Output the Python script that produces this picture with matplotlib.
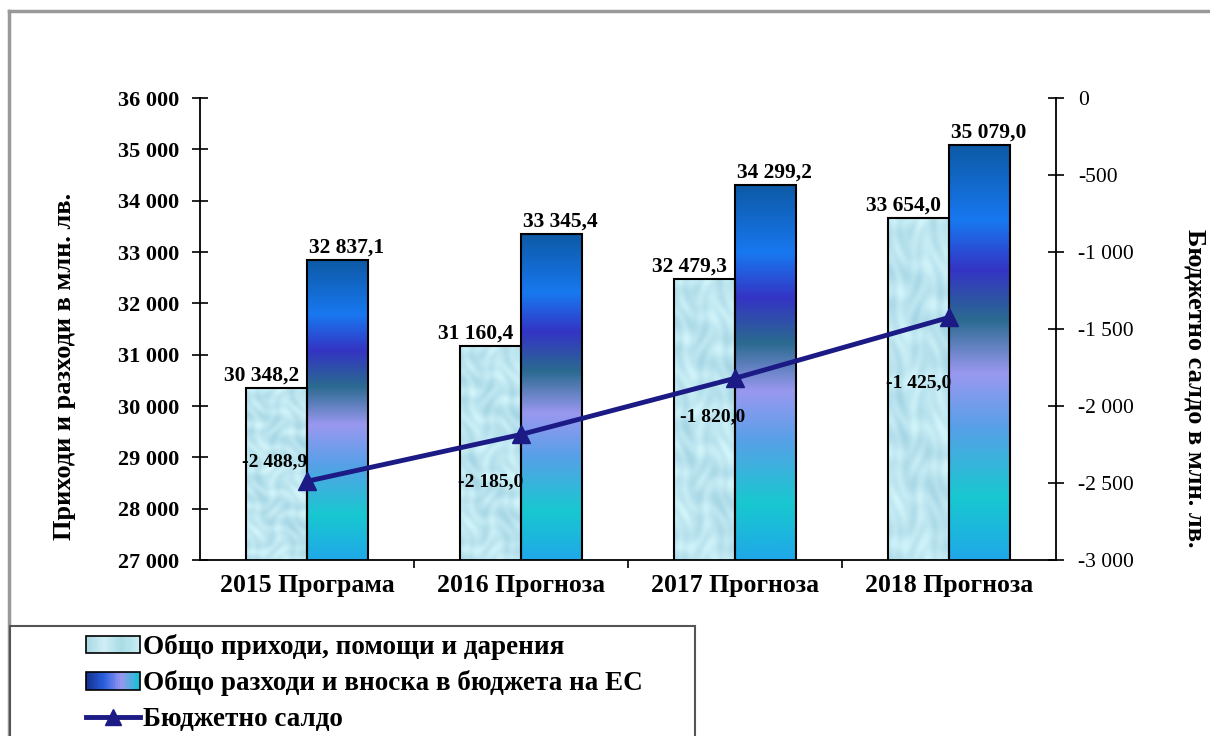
import numpy as np
import matplotlib
matplotlib.use("Agg")
import matplotlib.pyplot as plt
from matplotlib.colors import LinearSegmentedColormap
from matplotlib.legend_handler import HandlerBase
from matplotlib.patches import Rectangle, Patch
from matplotlib.lines import Line2D

plt.rcParams['font.family'] = ['Liberation Serif', 'DejaVu Serif']

categories = ["2015 Програма", "2016 Прогноза", "2017 Прогноза", "2018 Прогноза"]
revenue = [30348.2, 31160.4, 32479.3, 33654.0]
expenditure = [32837.1, 33345.4, 34299.2, 35079.0]
balance = [-2488.9, -2185.0, -1820.0, -1425.0]
names = ["Общо приходи, помощи и дарения",
         "Общо разходи и вноска в бюджета на ЕС",
         "Бюджетно салдо"]
left_ticks = list(range(27000, 36001, 1000))
right_ticks = list(range(-3000, 1, 500))

# label offsets (points) for the balance values
bal_offsets = [(-23, 14), (-22, -34), (-16, -28), (-22, -47)]

navy = "#1c1a84"
exp_stops = ["#0d5aa6", "#1878f0", "#3434c4", "#2a6a90", "#9a98f0",
             "#58a0e8", "#18c8d0", "#20a8e8"]
exp_pos = [0.0, 0.18, 0.30, 0.42, 0.55, 0.68, 0.85, 1.0]
exp_cmap = LinearSegmentedColormap.from_list("exp", list(zip(exp_pos, exp_stops)))


def fmt(v, dec=1):
    s = f"{v:,.{dec}f}".replace(",", " ").replace(".", ",")
    return s


def drops(h=240, w=70):
    # soft water-drop texture in pale cyan
    yy, xx = np.mgrid[0:h, 0:w]
    base = np.array([0.74, 0.90, 0.94])
    p = (np.sin(xx / 5.0 + np.sin(yy / 9.0) * 2) * np.sin(yy / 6.0 + np.cos(xx / 7.0) * 2))
    q = np.cos((xx + yy) / 11.0) * np.sin((xx - yy) / 8.0)
    t = 0.05 * p + 0.04 * q
    img = np.clip(base[None, None, :] + t[..., None] * np.array([1.0, 0.7, 0.5]), 0, 1)
    return img


class GradHandler(HandlerBase):
    def __init__(self, colors):
        super().__init__()
        self.cmap = LinearSegmentedColormap.from_list("h", colors)

    def create_artists(self, legend, orig_handle, xdescent, ydescent,
                       width, height, fontsize, trans):
        arts = []
        n = 30
        for k in range(n):
            arts.append(Rectangle((-xdescent + width * k / n, -ydescent),
                                  width / n * 1.1, height,
                                  facecolor=self.cmap(k / (n - 1)),
                                  edgecolor='none', transform=trans))
        arts.append(Rectangle((-xdescent, -ydescent), width, height,
                              facecolor='none', edgecolor='black', lw=1.2,
                              transform=trans))
        return arts


fig = plt.figure(figsize=(12.1, 7.36), dpi=100)
W, H = 1210, 736
ax = fig.add_axes([200 / W, (H - 560) / H, (1056 - 200) / W, (560 - 98) / H])

x = np.arange(len(categories))
bw = 0.287
b1 = ax.bar(x - bw / 2, revenue, bw, bottom=0, facecolor='none',
            edgecolor='black', lw=1.5, zorder=3)
b2 = ax.bar(x + bw / 2, expenditure, bw, facecolor='none',
            edgecolor='black', lw=1.5, zorder=3)

ylo, yhi = 27000, 36000
tex = drops()
grad = exp_cmap(np.linspace(0, 1, 256))[:, None, :3]
for r in b1:
    x0, w, top = r.get_x(), r.get_width(), r.get_height()
    ax.imshow(tex, extent=[x0, x0 + w, ylo, top], origin='upper',
              aspect='auto', zorder=2, interpolation='bilinear')
for r in b2:
    x0, w, top = r.get_x(), r.get_width(), r.get_height()
    ax.imshow(grad, extent=[x0, x0 + w, ylo, top], origin='upper',
              aspect='auto', zorder=2, interpolation='bilinear')

ax.set_xlim(-0.5, len(categories) - 0.5)
ax.set_ylim(ylo, yhi)
ax.set_aspect('auto')

for r, v in zip(b1, revenue):
    ax.text(r.get_x() + r.get_width() / 2 - 0.07, v + 50, fmt(v), ha='center',
            va='bottom', fontsize=15.5, fontweight='bold', zorder=5)
for r, v in zip(b2, expenditure):
    ax.text(r.get_x() + r.get_width() / 2 + 0.04, v + 50, fmt(v), ha='center',
            va='bottom', fontsize=15.5, fontweight='bold', zorder=5)

ax.set_yticks(left_ticks)
ax.set_yticklabels([fmt(v, 0) for v in left_ticks], fontsize=16,
                   fontweight='bold')
ax.tick_params(axis='y', direction='inout', length=12, width=1.2, pad=9)
ax.set_xticks(x)
ax.set_xticklabels(categories, fontsize=18.5, fontweight='bold')
ax.tick_params(axis='x', length=0, pad=10)
ax.set_xticks(np.arange(0.5, len(categories) - 0.5), minor=True)
ax.tick_params(axis='x', which='minor', direction='out', length=6, width=1.2)
ax.spines['top'].set_visible(False)
ax.spines['right'].set_visible(False)
for s in ('left', 'bottom'):
    ax.spines[s].set_linewidth(1.3)
ax.set_ylabel("Приходи и разходи в млн. лв.", fontsize=19, fontweight='bold')
ax.yaxis.set_label_coords(-0.145, 0.42)

ax2 = ax.twinx()
ax2.plot(x, balance, color=navy, lw=3.5, marker='^', ms=13, zorder=6)
for xi, v, off in zip(x, balance, bal_offsets):
    ax2.annotate(fmt(v), (xi, v), xytext=off, textcoords='offset points',
                 ha='center', va='center', fontsize=14, fontweight='bold')
ax2.set_ylim(-3000, 0)
ax2.set_yticks(right_ticks)
ax2.set_yticklabels([fmt(v, 0) for v in right_ticks], fontsize=15.5)
ax2.tick_params(axis='y', direction='inout', length=12, width=1.2, pad=10)
ax2.spines['top'].set_visible(False)
ax2.spines['left'].set_visible(False)
ax2.spines['bottom'].set_visible(False)
ax2.spines['right'].set_linewidth(1.3)
ax2.set_ylabel("Бюджетно салдо в млн. лв.", fontsize=19, fontweight='bold',
               rotation=270, va='center')
ax2.yaxis.set_label_coords(1.162, 0.372)

# outer chart border
fig.add_artist(Line2D([9 / W, 9 / W], [0, 1 - 11 / H], color='#999999',
                      lw=2.5, transform=fig.transFigure))
fig.add_artist(Line2D([9 / W, 1], [1 - 11 / H, 1 - 11 / H], color='#999999',
                      lw=2.5, transform=fig.transFigure))

# legend box
fig.add_artist(Rectangle((10 / W, -0.01), (695 - 10) / W, (H - 626) / H + 0.01,
                         transform=fig.transFigure, facecolor='white',
                         edgecolor='#555555', lw=1.5, zorder=10))
h1 = Patch()
h2 = Patch()
h3 = Line2D([], [], color=navy, lw=3.5, marker='^', ms=12)
leg = fig.legend([h1, h2, h3], names, loc='upper left',
                 bbox_to_anchor=(64 / W, 1 - 612 / H), frameon=False,
                 prop={'size': 19.5, 'weight': 'bold'},
                 handlelength=2.0, handleheight=0.6, handletextpad=0.1,
                 labelspacing=0.4, borderpad=0.3,
                 handler_map={h1: GradHandler(["#a8d8e4", "#d0eef4", "#a8dce6", "#c8ecf2"]),
                              h2: GradHandler(["#14308c", "#2a60e0", "#9a98f0", "#18c0d4"])})
leg.set_zorder(11)

fig.savefig("out.png", dpi=100)
